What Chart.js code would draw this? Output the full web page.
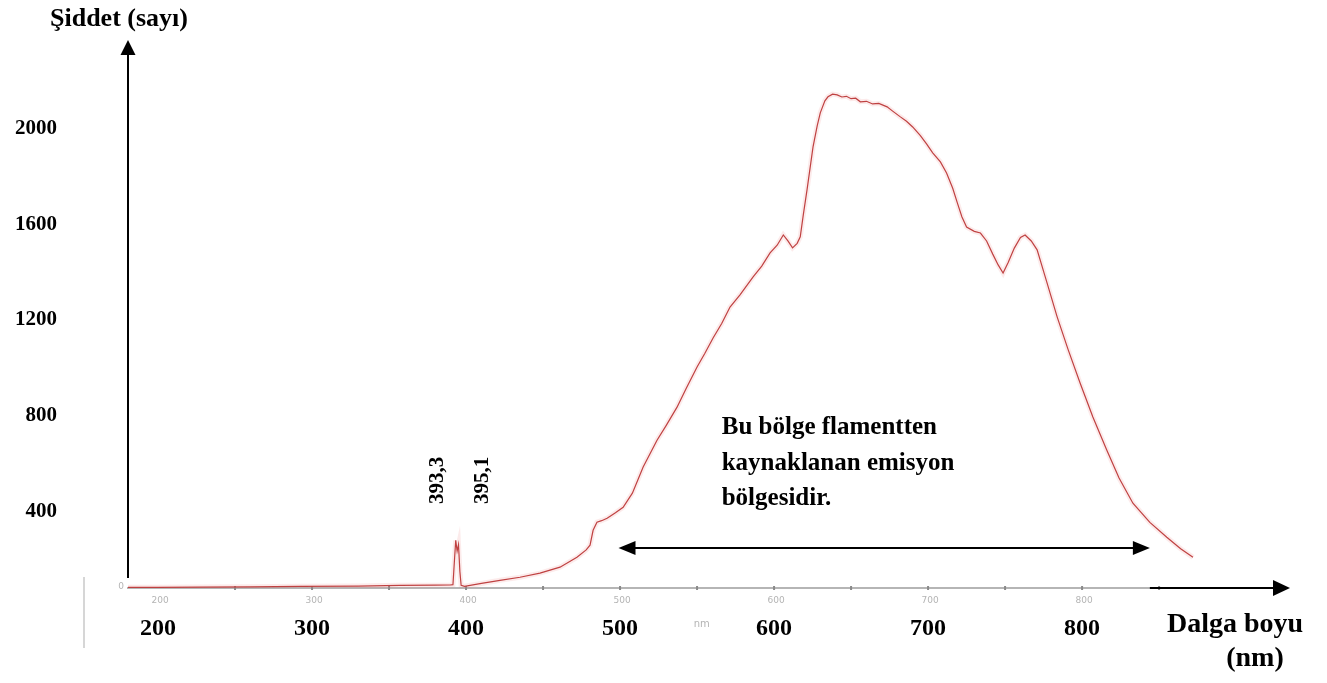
<!DOCTYPE html>
<html>
<head>
<meta charset="utf-8">
<script src="https://cdn.jsdelivr.net/npm/chart.js@4.4.1/dist/chart.umd.min.js"></script>
<style>
  html, body { margin: 0; padding: 0; background: #ffffff; }
  #wrap { width: 1327px; height: 683px; position: relative; }
</style>
</head>
<body>
<div id="wrap"><canvas id="c" width="1327" height="683"></canvas></div>
<script>
// Emission spectrum: wavelength (nm) and intensity (counts)
const wavelengths = [
  180.5, 200, 227, 260, 292, 330, 357, 380, 390, 391.5, 392.5, 393.3, 394.2, 395.1, 396, 396.8,
  399, 410, 422, 435, 448, 461, 472, 478, 480.5, 482.5, 485, 488, 491.6, 497, 502, 508, 515,
  524, 530, 537, 543, 550, 555, 560.4, 566, 571.4, 578, 586.4, 592, 597.4, 602, 606, 609, 612,
  615, 617, 619, 621.4, 625.3, 628, 630, 633, 635, 638, 641, 644, 647, 650, 653, 656, 660, 664,
  668, 673.4, 677, 682, 686, 690, 695, 699, 703, 708, 712, 716, 719, 722, 725, 730, 734, 738,
  742, 745.5, 748.7, 752, 756, 760, 763, 767, 770.8, 777, 783.8, 791, 798.7, 807, 816, 824,
  833, 844, 855, 864, 872
];
const intensity = [
  84, 84, 85, 86, 88, 89, 92, 93, 94, 95, 200, 280, 235, 262, 150, 92,
  88, 100, 113, 126, 143, 168, 209, 240, 260, 322, 356, 362, 372, 395, 418, 477, 586,
  698, 760, 836, 915, 1004, 1060, 1125, 1185, 1254, 1306, 1380, 1425, 1480, 1512, 1555, 1530, 1501,
  1520, 1547, 1640, 1743, 1923, 2010, 2065, 2115, 2132, 2143, 2140, 2131, 2134, 2124, 2126, 2111, 2113, 2102,
  2104, 2090, 2072, 2048, 2030, 2006, 1970, 1935, 1898, 1860, 1814, 1750, 1689, 1630, 1588, 1570, 1563, 1530,
  1475, 1430, 1396, 1440, 1500, 1545, 1555, 1530, 1493, 1360, 1213, 1075, 937, 795, 657, 540,
  435, 355, 293, 245, 209
];

// Axis labels
const yTickValues = [400, 800, 1200, 1600, 2000];
const xTickValues = [200, 300, 400, 500, 600, 700, 800];
const minorTickValues = [250, 300, 350, 400, 450, 500, 550, 600, 650, 700, 750, 800, 850];
const faintTickLabels = [200, 300, 400, 500, 600, 700, 800];

// Annotated emission lines and the filament region
const lineLabels = [
  { nm: 393.3, text: '393,3' },
  { nm: 395.1, text: '395,1' }
];
const regionStart = 499;
const regionEnd = 844;
const regionLevel = 248;
const regionNote = ['Bu bölge flamentten', 'kaynaklanan emisyon', 'bölgesidir.'];

const SERIF = "'Liberation Serif', 'Times New Roman', serif";

function arrowHead(ctx, tipX, tipY, dirX, dirY, len, half) {
  const bx = tipX - dirX * len, by = tipY - dirY * len;
  const px = -dirY, py = dirX;
  ctx.beginPath();
  ctx.moveTo(tipX, tipY);
  ctx.lineTo(bx + px * half, by + py * half);
  ctx.lineTo(bx - px * half, by - py * half);
  ctx.closePath();
  ctx.fill();
}

const decor = {
  id: 'decor',
  beforeDatasetsDraw(chart) {
    const { ctx, chartArea: a, scales: { x: xs } } = chart;
    const base = a.bottom;
    ctx.save();
    // grey measurement axis
    ctx.strokeStyle = '#9c9c9c';
    ctx.lineWidth = 1.5;
    ctx.beginPath();
    ctx.moveTo(a.left - 1, base);
    ctx.lineTo(xs.getPixelForValue(870), base);
    ctx.stroke();
    // minor tick marks
    ctx.fillStyle = '#8a8a8a';
    minorTickValues.forEach(v => {
      const px = xs.getPixelForValue(v);
      ctx.fillRect(px - 1, base - 2, 2, 4);
    });
    // faint tick labels of the instrument scale
    ctx.fillStyle = '#b4b4b4';
    ctx.font = "9px 'DejaVu Sans', sans-serif";
    ctx.textAlign = 'center';
    ctx.textBaseline = 'middle';
    faintTickLabels.forEach(v => ctx.fillText(String(v), xs.getPixelForValue(v) + 2, base + 13));
    ctx.fillText('0', a.left - 7, base - 1);
    ctx.font = "10px 'DejaVu Sans', sans-serif";
    ctx.fillText('nm', xs.getPixelForValue(553), base + 36);
    // faint left border
    ctx.strokeStyle = '#d6d6d6';
    ctx.lineWidth = 2;
    ctx.beginPath();
    ctx.moveTo(84, base - 11);
    ctx.lineTo(84, base + 60);
    ctx.stroke();
    ctx.restore();
  },
  afterDraw(chart) {
    const { ctx, chartArea: a, scales: { x: xs, y: ys } } = chart;
    const base = a.bottom;
    ctx.save();
    ctx.fillStyle = '#000';
    ctx.strokeStyle = '#000';

    // vertical axis arrow
    ctx.lineWidth = 2;
    ctx.beginPath();
    ctx.moveTo(a.left, base - 10);
    ctx.lineTo(a.left, a.top + 12);
    ctx.stroke();
    arrowHead(ctx, a.left, a.top, 0, -1, 15, 7.5);

    // horizontal axis arrow
    ctx.beginPath();
    ctx.moveTo(xs.getPixelForValue(844), base);
    ctx.lineTo(a.right - 12, base);
    ctx.stroke();
    arrowHead(ctx, a.right, base, 1, 0, 17, 8);

    // axis titles
    ctx.textAlign = 'left';
    ctx.textBaseline = 'alphabetic';
    ctx.font = 'bold 26px ' + SERIF;
    ctx.fillText('Şiddet (sayı)', 50, 26);
    ctx.font = 'bold 28px ' + SERIF;
    ctx.textAlign = 'center';
    ctx.fillText('Dalga boyu', 1235, 632);
    ctx.fillText('(nm)', 1255, 666);

    // emission line labels (rotated)
    ctx.font = 'bold 21px ' + SERIF;
    ctx.textBaseline = 'middle';
    const offsets = [-18, 24];
    lineLabels.forEach((l, i) => {
      ctx.save();
      ctx.translate(xs.getPixelForValue(l.nm) + offsets[i], ys.getPixelForValue(530));
      ctx.rotate(-Math.PI / 2);
      ctx.fillText(l.text, 0, 0);
      ctx.restore();
    });

    // filament region arrow
    const ry = ys.getPixelForValue(regionLevel);
    const rx0 = xs.getPixelForValue(regionStart);
    const rx1 = xs.getPixelForValue(regionEnd);
    ctx.lineWidth = 2;
    ctx.beginPath();
    ctx.moveTo(rx0 + 10, ry);
    ctx.lineTo(rx1 - 10, ry);
    ctx.stroke();
    arrowHead(ctx, rx0, ry, -1, 0, 17, 7);
    arrowHead(ctx, rx1, ry, 1, 0, 17, 7);

    // region note
    ctx.font = 'bold 25px ' + SERIF;
    ctx.textAlign = 'left';
    ctx.textBaseline = 'alphabetic';
    const nx = xs.getPixelForValue(566);
    regionNote.forEach((t, i) => ctx.fillText(t, nx, 434 + i * 35.5));
    ctx.restore();
  }
};

new Chart(document.getElementById('c'), {
  type: 'line',
  data: {
    datasets: [
      {
        data: wavelengths.map((w, i) => ({ x: w, y: intensity[i] })),
        borderColor: 'rgba(235, 120, 120, 0.15)',
        borderWidth: 5,
        pointRadius: 0,
        tension: 0
      },
      {
        data: wavelengths.map((w, i) => ({ x: w, y: intensity[i] })),
        borderColor: '#b83838',
        borderWidth: 1.2,
        pointRadius: 0,
        tension: 0
      }
    ]
  },
  options: {
    responsive: false,
    animation: false,
    devicePixelRatio: 1,
    layout: { padding: { top: 40, right: 37, left: 0, bottom: 0 } },
    plugins: { legend: { display: false }, tooltip: { enabled: false } },
    scales: {
      x: {
        type: 'linear',
        min: 180.5,
        max: 935,
        grid: { display: false, drawTicks: false },
        border: { display: false },
        afterBuildTicks: s => { s.ticks = xTickValues.map(v => ({ value: v })); },
        afterFit: s => { s.height = 95; s.paddingLeft = 0; s.paddingRight = 0; },
        ticks: {
          color: '#000',
          padding: 26,
          maxRotation: 0,
          autoSkip: false,
          font: { family: SERIF, size: 24, weight: 'bold' },
          callback: v => String(v)
        }
      },
      y: {
        type: 'linear',
        min: 81,
        max: 2369,
        grid: { display: false, drawTicks: false },
        border: { display: false },
        afterBuildTicks: s => { s.ticks = yTickValues.map(v => ({ value: v })); },
        afterFit: s => { s.width = 128; s.paddingTop = 0; s.paddingBottom = 0; },
        ticks: {
          color: '#000',
          padding: 71,
          autoSkip: false,
          font: { family: SERIF, size: 21, weight: 'bold' },
          callback: v => String(v)
        }
      }
    }
  },
  plugins: [decor]
});
</script>
</body>
</html>
